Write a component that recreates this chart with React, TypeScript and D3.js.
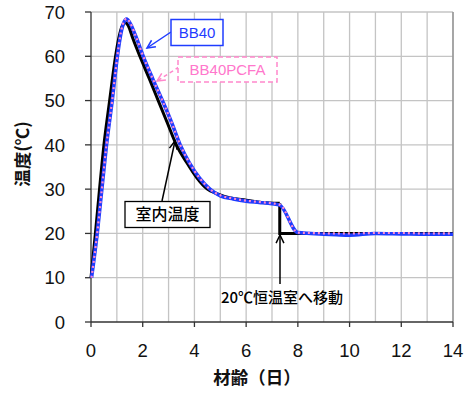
import * as d3 from "d3";
import React from "react";

// 室内温度 (black)
const roomDays = [0, 0.17, 0.33, 0.5, 0.72, 0.95, 1.07, 1.22, 1.34, 1.45, 1.62, 1.89, 2.25, 2.6, 2.95, 3.3, 3.7, 4.1, 4.5, 4.86, 5.4, 6.0, 6.6, 7.3, 7.3, 8, 10, 12, 14];
const roomTemps = [10, 20, 30, 40, 50, 60, 64, 67, 67.6, 66.8, 64, 60, 55, 50, 45, 40, 36, 32.5, 30, 29, 28, 27.5, 27, 26.8, 20, 20, 20, 20, 20];

// BB40 (blue)
const bbDays = [0.02, 0.24, 0.42, 0.6, 0.82, 1.02, 1.12, 1.26, 1.38, 1.5, 1.7, 2.02, 2.38, 2.76, 3.12, 3.45, 3.8, 4.2, 4.6, 5.0, 5.5, 6.0, 6.5, 7.0, 7.3, 8.0, 8.5, 9.5, 10, 11, 12, 13, 14];
const bbTemps = [10, 20, 30, 40, 50, 60, 64, 67.5, 68.4, 67.6, 65, 60, 55, 50, 45, 40, 36, 32.5, 30, 28.5, 27.8, 27.3, 27, 26.7, 26.4, 20.2, 20, 19.7, 19.6, 20, 19.9, 19.8, 19.8];

// BB40PCFA (pink dotted)
const pcDays = [0.02, 0.24, 0.42, 0.6, 0.82, 1.02, 1.12, 1.26, 1.38, 1.5, 1.7, 2.02, 2.38, 2.76, 3.12, 3.45, 3.8, 4.2, 4.6, 5.0, 5.5, 6.0, 6.5, 7.0, 7.3, 8.0, 8.5, 9.5, 10, 11, 12, 13, 14];
const pcTemps = [10, 20, 30, 40, 50, 60, 64.2, 67.7, 68.5, 67.7, 65, 60, 55, 50, 45, 40, 36, 32.5, 30, 28.6, 27.9, 27.4, 27.1, 26.8, 26.5, 20.2, 20.1, 20, 20, 20.1, 20.1, 20, 20];

const xTicks = [0, 2, 4, 6, 8, 10, 12, 14];
const yTicks = [0, 10, 20, 30, 40, 50, 60, 70];
const xGrid = d3.range(1, 15);

const x = d3.scaleLinear().domain([0, 14]).range([91, 453]);
const y = d3.scaleLinear().domain([0, 70]).range([322, 12]);

const latin = "'Liberation Sans', Arial, 'Noto Sans CJK JP', sans-serif";
const cjk = "'Noto Sans CJK JP', 'Liberation Sans', sans-serif";

const zip = (a: number[], b: number[]) => a.map((d, i) => [d, b[i]] as [number, number]);

const smooth = d3
  .line<[number, number]>()
  .x((d) => x(d[0]))
  .y((d) => y(d[1]))
  .curve(d3.curveMonotoneX);
const straight = d3
  .line<[number, number]>()
  .x((d) => x(d[0]))
  .y((d) => y(d[1]));

const Arrow = ({ x1, y1, x2, y2, color, dash }: any) => {
  const a = Math.atan2(y2 - y1, x2 - x1);
  const L = 9;
  const s = 0.45;
  const h1 = [x2 - L * Math.cos(a - s), y2 - L * Math.sin(a - s)];
  const h2 = [x2 - L * Math.cos(a + s), y2 - L * Math.sin(a + s)];
  return (
    <g stroke={color} fill="none" strokeWidth={1.5}>
      <line x1={x1} y1={y1} x2={x2} y2={y2} strokeDasharray={dash} />
      <path d={`M${h1[0]},${h1[1]}L${x2},${y2}L${h2[0]},${h2[1]}`} />
    </g>
  );
};

export default function App() {
  const room = zip(roomDays, roomTemps);
  const split = roomDays.findIndex((d, i) => i > 0 && d === roomDays[i - 1]);
  const roomCurve = room.slice(0, split);
  const roomStep = room.slice(split - 1);
  const bb = zip(bbDays, bbTemps);
  const pc = zip(pcDays, pcTemps);

  return (
    <svg width={465} height={394} style={{ position: "absolute", left: 0, top: 0, background: "#fff" }}>
      {/* grid */}
      <g stroke="#c4c4c4" strokeWidth={1.3}>
        {xGrid.map((d) => (
          <line key={"gx" + d} x1={x(d)} x2={x(d)} y1={y(70)} y2={y(0)} />
        ))}
        {yTicks.slice(1).map((d) => (
          <line key={"gy" + d} x1={x(0)} x2={x(14)} y1={y(d)} y2={y(d)} />
        ))}
      </g>
      <line x1={x(14)} x2={x(14)} y1={y(70)} y2={y(0)} stroke="#8c8c8c" strokeWidth={1.3} />
      {/* axes */}
      <g stroke="#333" strokeWidth={1.3}>
        <line x1={x(0)} x2={x(0)} y1={y(70)} y2={y(0)} />
        <line x1={x(0)} x2={x(14)} y1={y(0)} y2={y(0)} />
        {yTicks.map((d) => (
          <line key={"ty" + d} x1={x(0) - 6} x2={x(0)} y1={y(d)} y2={y(d)} />
        ))}
        {xTicks.map((d) => (
          <line key={"tx" + d} x1={x(d)} x2={x(d)} y1={y(0)} y2={y(0) + 5} />
        ))}
      </g>
      <g fontFamily={latin} fontSize={18.5} fill="#111">
        {yTicks.map((d) => (
          <text key={"ly" + d} x={65} y={y(d)} dy="0.36em" textAnchor="end">
            {d}
          </text>
        ))}
        {xTicks.map((d) => (
          <text key={"lx" + d} x={x(d)} y={350} dy="0.36em" textAnchor="middle">
            {d}
          </text>
        ))}
      </g>
      <text x={257} y={378} dy="0.36em" textAnchor="middle" fontFamily={cjk} fontSize={17.5} fontWeight={700} fill="#111">
        材齢（日）
      </text>
      <text
        transform="translate(23,154) rotate(-90)"
        dy="0.36em"
        textAnchor="middle"
        fontFamily={cjk}
        fontSize={17.5}
        fontWeight={700}
        fill="#111"
      >
        温度(℃)
      </text>

      {/* series */}
      <path d={smooth(roomCurve) || ""} fill="none" stroke="#000" strokeWidth={3} />
      <path d={straight(roomStep) || ""} fill="none" stroke="#000" strokeWidth={3} />
      <path d={smooth(bb) || ""} fill="none" stroke="#1f3cff" strokeWidth={3.6} />
      <path d={smooth(pc) || ""} fill="none" stroke="#ff88cc" strokeWidth={2.2} strokeDasharray="2,3" />

      {/* callouts */}
      <Arrow x1={171} y1={32} x2={147} y2={48} color="#1f3cff" />
      <rect x={171} y={19.5} width={52} height={26} fill="#fff" stroke="#1f3cff" strokeWidth={1.5} />
      <text x={197} y={33} dy="0.36em" textAnchor="middle" fontFamily={latin} fontSize={15} fill="#1f3cff">
        BB40
      </text>

      <Arrow x1={179} y1={67} x2={157} y2={81} color="#ff88cc" dash="4,3" />
      <rect x={178} y={57} width={99} height={25} fill="#fff" stroke="#ff88cc" strokeWidth={1.5} strokeDasharray="5,3" />
      <text x={227.5} y={69.5} dy="0.36em" textAnchor="middle" fontFamily={latin} fontSize={15} fill="#ff77cc">
        BB40PCFA
      </text>

      <Arrow x1={162} y1={201} x2={175} y2={141} color="#000" />
      <rect x={125} y={201.5} width={85} height={26} fill="#fff" stroke="#000" strokeWidth={1.3} />
      <text x={167.5} y={214.5} dy="0.36em" textAnchor="middle" fontFamily={cjk} fontSize={16} fontWeight={500} fill="#000">
        室内温度
      </text>

      <Arrow x1={280} y1={284} x2={280} y2={235} color="#000" />
      <text x={282} y={298} dy="0.36em" textAnchor="middle" fontFamily={cjk} fontSize={15} fontWeight={500} fill="#000">
        20℃恒温室へ移動
      </text>
    </svg>
  );
}
